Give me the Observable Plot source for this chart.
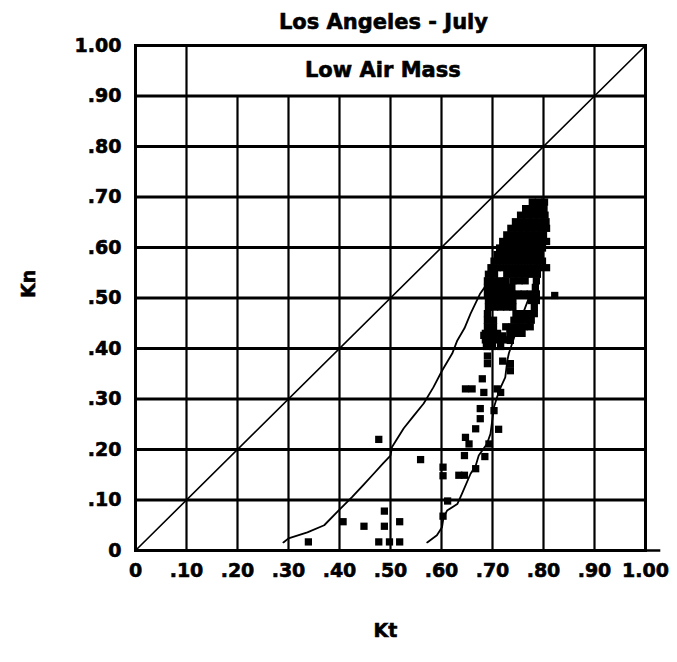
<!DOCTYPE html>
<html>
<head>
<meta charset="utf-8">
<script src="https://cdn.jsdelivr.net/npm/d3@7"></script>
<script src="https://cdn.jsdelivr.net/npm/@observablehq/plot@0.6"></script>
<style>
  html, body { margin: 0; padding: 0; background: #fff; }
  svg text { font-family: "DejaVu Sans", sans-serif; font-weight: bold; stroke: black; stroke-width: 0.6px; }
</style>
</head>
<body>
<div id="chart"></div>
<script>
const title = "Los Angeles - July";
const panelLabel = "Low Air Mass";
const xLabel = "Kt";
const yLabel = "Kn";

const xTicks = [0, 0.1, 0.2, 0.3, 0.4, 0.5, 0.6, 0.7, 0.8, 0.9, 1.0];
const xTickLabels = ["0", ".10", ".20", ".30", ".40", ".50", ".60", ".70", ".80", ".90", "1.00"];
const yTicks = [0, 0.1, 0.2, 0.3, 0.4, 0.5, 0.6, 0.7, 0.8, 0.9, 1.0];
const yTickLabels = ["0", ".10", ".20", ".30", ".40", ".50", ".60", ".70", ".80", ".90", "1.00"];

// grid lines
const hGrid = [0.1, 0.2, 0.3, 0.4, 0.5, 0.6, 0.7, 0.8, 0.9];
const vGrid = [0.1, 0.2, 0.3, 0.4, 0.5, 0.6, 0.7, 0.8, 0.9];
const vGridTop = [1.0, 0.9, 0.9, 0.9, 0.9, 0.9, 0.9, 0.9, 1.0];

// diagonal Kn = Kt
const diagKt = [0, 1];
const diagKn = [0, 1];

// left envelope curve
const leftKt = [0.290, 0.300, 0.337, 0.370, 0.398, 0.425, 0.447, 0.467, 0.485, 0.500, 0.503, 0.526, 0.545, 0.565, 0.584, 0.601, 0.621, 0.631, 0.645, 0.657, 0.676, 0.690, 0.700];
const leftKn = [0.016, 0.024, 0.036, 0.050, 0.079, 0.106, 0.130, 0.152, 0.172, 0.188, 0.205, 0.242, 0.266, 0.291, 0.323, 0.356, 0.390, 0.416, 0.440, 0.469, 0.509, 0.529, 0.548];

// right envelope curve
const rightKt = [0.572, 0.591, 0.601, 0.604, 0.611, 0.631, 0.640, 0.657, 0.667, 0.673, 0.689, 0.696, 0.703, 0.709, 0.716, 0.725, 0.729, 0.732, 0.745, 0.760, 0.775];
const rightKn = [0.016, 0.030, 0.046, 0.066, 0.079, 0.092, 0.112, 0.152, 0.168, 0.188, 0.211, 0.231, 0.284, 0.304, 0.323, 0.343, 0.376, 0.390, 0.430, 0.470, 0.510];

// observations (Kt, Kn)
const obsKt = [
  0.778, 0.790, 0.802,
  0.765, 0.777, 0.789, 0.801,
  0.755, 0.767, 0.779, 0.791, 0.803,
  0.745, 0.757, 0.769, 0.781, 0.793, 0.805,
  0.736, 0.748, 0.760, 0.772, 0.784, 0.796, 0.806,
  0.728, 0.740, 0.752, 0.764, 0.776, 0.788, 0.800,
  0.720, 0.732, 0.744, 0.756, 0.768, 0.780, 0.792, 0.806,
  0.714, 0.726, 0.738, 0.750, 0.762, 0.774, 0.786, 0.798,
  0.709, 0.721, 0.733, 0.745, 0.757, 0.769, 0.781, 0.794,
  0.703, 0.715, 0.727, 0.739, 0.751, 0.763, 0.775, 0.788, 0.798,
  0.697, 0.709, 0.721, 0.733, 0.745, 0.757, 0.769, 0.781, 0.792, 0.806,
  0.692, 0.704, 0.728, 0.740, 0.752, 0.764, 0.776, 0.788,
  0.690, 0.702, 0.714, 0.726, 0.740, 0.752, 0.764, 0.786,
  0.690, 0.702, 0.714, 0.726, 0.738, 0.784,
  0.690, 0.702, 0.714, 0.726, 0.738, 0.750, 0.762, 0.774, 0.786, 0.822,
  0.692, 0.704, 0.716, 0.728, 0.740, 0.776, 0.786,
  0.692, 0.704, 0.716, 0.728, 0.740, 0.782,
  0.690, 0.746, 0.758, 0.770, 0.782,
  0.690, 0.702, 0.742, 0.754, 0.766, 0.776,
  0.690, 0.702, 0.726, 0.738, 0.750, 0.762, 0.774,
  0.686, 0.698, 0.710, 0.734, 0.746, 0.758,
  0.686, 0.698, 0.712, 0.724, 0.735,
  0.688, 0.700, 0.716,
  0.683, 0.720, 0.735, 0.720, 0.735, 0.690, 0.735, 0.690,
  0.680, 0.709, 0.647, 0.660, 0.683, 0.716,
  0.676, 0.676, 0.703, 0.667, 0.712, 0.647, 0.654, 0.685, 0.693,
  0.645, 0.667, 0.634, 0.645, 0.603, 0.603, 0.559, 0.603, 0.612,
  0.477, 0.339, 0.407, 0.448, 0.488, 0.488, 0.477, 0.498, 0.518, 0.518
];
const obsKn = [
  0.690, 0.690, 0.690,
  0.677, 0.677, 0.677, 0.677,
  0.664, 0.664, 0.664, 0.664, 0.664,
  0.651, 0.651, 0.651, 0.651, 0.651, 0.651,
  0.638, 0.638, 0.638, 0.638, 0.638, 0.638, 0.638,
  0.625, 0.625, 0.625, 0.625, 0.625, 0.625, 0.625,
  0.612, 0.612, 0.612, 0.612, 0.612, 0.612, 0.612, 0.612,
  0.599, 0.599, 0.599, 0.599, 0.599, 0.599, 0.599, 0.599,
  0.586, 0.586, 0.586, 0.586, 0.586, 0.586, 0.586, 0.586,
  0.573, 0.573, 0.573, 0.573, 0.573, 0.573, 0.573, 0.573, 0.573,
  0.560, 0.560, 0.560, 0.560, 0.560, 0.560, 0.560, 0.560, 0.560, 0.560,
  0.547, 0.547, 0.547, 0.547, 0.547, 0.547, 0.547, 0.547,
  0.534, 0.534, 0.534, 0.534, 0.534, 0.534, 0.534, 0.534,
  0.521, 0.521, 0.521, 0.521, 0.521, 0.521,
  0.508, 0.508, 0.508, 0.508, 0.508, 0.508, 0.508, 0.508, 0.508, 0.505,
  0.495, 0.495, 0.495, 0.495, 0.495, 0.495, 0.495,
  0.482, 0.482, 0.482, 0.482, 0.482, 0.482,
  0.469, 0.469, 0.469, 0.469, 0.469,
  0.456, 0.456, 0.456, 0.456, 0.456, 0.456,
  0.443, 0.443, 0.443, 0.443, 0.443, 0.443, 0.443,
  0.430, 0.430, 0.430, 0.430, 0.430, 0.430,
  0.417, 0.417, 0.417, 0.417, 0.417,
  0.404, 0.404, 0.404,
  0.426, 0.425, 0.416, 0.375, 0.370, 0.370, 0.356, 0.385,
  0.340, 0.320, 0.320, 0.320, 0.313, 0.313,
  0.281, 0.261, 0.277, 0.241, 0.240, 0.224, 0.211, 0.186, 0.211,
  0.188, 0.162, 0.149, 0.149, 0.165, 0.148, 0.180, 0.068, 0.098,
  0.220, 0.017, 0.057, 0.048, 0.078, 0.048, 0.017, 0.017, 0.017, 0.057
];

const obs = obsKt.map((kt, i) => ({kt, kn: obsKn[i]}));
const left = leftKt.map((kt, i) => ({kt, kn: leftKn[i]}));
const right = rightKt.map((kt, i) => ({kt, kn: rightKn[i]}));
const diag = diagKt.map((kt, i) => ({kt, kn: diagKn[i]}));
const vgrid = vGrid.map((x, i) => ({x, top: vGridTop[i]}));

const chart = Plot.plot({
  width: 677,
  height: 662,
  marginTop: 45,
  marginBottom: 112,
  marginLeft: 135,
  marginRight: 32,
  x: {domain: [0, 1]},
  y: {domain: [0, 1]},
  style: {fontFamily: "DejaVu Sans", fontWeight: "bold", color: "black", background: "white"},
  marks: [
    Plot.ruleY(hGrid, {stroke: "black", strokeWidth: 2.8}),
    Plot.ruleX(vgrid, {x: "x", y1: 0, y2: "top", stroke: "black", strokeWidth: 2.2}),
    Plot.ruleY([0], {x1: 0, x2: 1.03, stroke: "black", strokeWidth: 2.4}),
    Plot.frame({stroke: "black", strokeWidth: 3}),
    Plot.line(diag, {x: "kt", y: "kn", stroke: "black", strokeWidth: 1.6}),
    Plot.line(left, {x: "kt", y: "kn", stroke: "black", strokeWidth: 1.8, curve: "linear"}),
    Plot.line(right, {x: "kt", y: "kn", stroke: "black", strokeWidth: 1.8, curve: "linear"}),
    Plot.dot(obs, {x: "kt", y: "kn", symbol: "square", r: 4.1, fill: "black", stroke: "none"}),
    Plot.axisX(xTicks, {tickFormat: (d, i) => xTickLabels[i], tickSize: 0, tickPadding: 13, fontSize: 19, fontWeight: "bold", label: null}),
    Plot.axisY(yTicks, {tickFormat: (d, i) => yTickLabels[i], tickSize: 0, tickPadding: 14, fontSize: 19, fontWeight: "bold", label: null}),
    Plot.text([panelLabel], {x: 0.485, y: 0.95, text: d => d, fontSize: 21, fontWeight: "bold", fill: "black"}),
    Plot.text([title], {frameAnchor: "top", dy: -31, dx: -7, text: d => d, fontSize: 21, fontWeight: "bold", fill: "black"}),
    Plot.text([yLabel], {frameAnchor: "left", dx: -107, rotate: -90, text: d => d, fontSize: 19, fontWeight: "bold", fill: "black"}),
    Plot.text([xLabel], {frameAnchor: "bottom", dy: 86, dx: -5, text: d => d, fontSize: 19, fontWeight: "bold", fill: "black"})
  ]
});
document.getElementById("chart").appendChild(chart);
</script>
</body>
</html>
